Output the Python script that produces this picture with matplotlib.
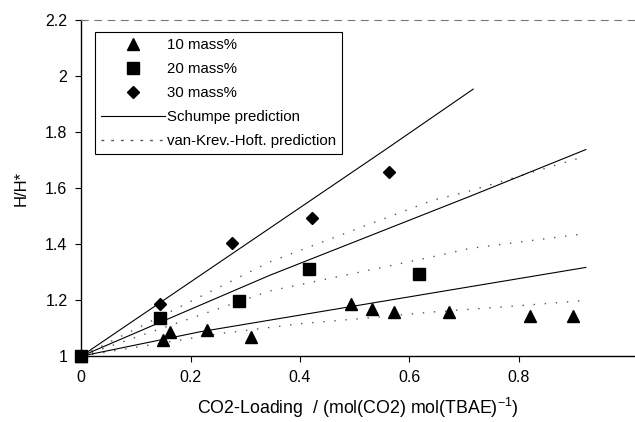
import matplotlib.pyplot as plt

plt.rcParams['font.family'] = ['Liberation Sans', 'DejaVu Sans']

# measured points (CO2 loading, H/H*)
x10 = [0, 0.150, 0.162, 0.230, 0.310, 0.493, 0.532, 0.572, 0.673, 0.821, 0.899]
y10 = [1, 1.057, 1.087, 1.095, 1.069, 1.186, 1.168, 1.156, 1.158, 1.143, 1.143]
x20 = [0, 0.144, 0.289, 0.416, 0.618]
y20 = [1, 1.137, 1.198, 1.313, 1.293]
x30 = [0, 0.144, 0.276, 0.422, 0.563]
y30 = [1, 1.186, 1.405, 1.494, 1.657]

# Schumpe prediction
sx10 = [0, 0.217, 0.674, 0.923]
sy10 = [1, 1.087, 1.236, 1.317]
sx20 = [0, 0.345, 0.711, 0.923]
sy20 = [1, 1.289, 1.571, 1.738]
sx30 = [0, 0.555, 0.717]
sy30 = [1, 1.736, 1.954]

# van Krevelen-Hoftijzer prediction (dotted lines)
vx10 = [0, 0.254, 0.406, 0.516, 0.644, 0.812, 0.915]
vy10 = [1, 1.081, 1.117, 1.135, 1.158, 1.182, 1.198]
vx20 = [0, 0.345, 0.643, 0.711, 0.915]
vy20 = [1, 1.233, 1.355, 1.385, 1.436]
vx30 = [0, 0.345, 0.643, 0.705, 0.912]
vy30 = [1, 1.337, 1.557, 1.587, 1.708]

xticks = [0, 0.2, 0.4, 0.6, 0.8]
xticklabels = ["0", "0.2", "0.4", "0.6", "0.8"]
yticks = [1, 1.2, 1.4, 1.6, 1.8, 2, 2.2]
yticklabels = ["1", "1.2", "1.4", "1.6", "1.8", "2", "2.2"]

fig = plt.figure(figsize=(6.35, 4.22), dpi=100)
ax = fig.add_axes([0.128, 0.156, 0.872, 0.796])

dot = (0, (1, 7))
ax.plot(vx10, vy10, color='#555555', lw=1, linestyle=dot)
ax.plot(vx20, vy20, color='#555555', lw=1, linestyle=dot)
ax.plot(vx30, vy30, color='#555555', lw=1, linestyle=dot)
ax.plot(sx10, sy10, color='black', lw=0.8)
ax.plot(sx20, sy20, color='black', lw=0.8)
ax.plot(sx30, sy30, color='black', lw=0.8)

h1, = ax.plot(x10, y10, '^', color='black', ms=9, linestyle='none', clip_on=False)
h3, = ax.plot(x30, y30, 'D', color='black', ms=6.5, linestyle='none', clip_on=False)
h2, = ax.plot(x20, y20, 's', color='black', ms=8, linestyle='none', clip_on=False)

hs, = ax.plot([], [], color='black', lw=0.8)
hv, = ax.plot([], [], color='#555555', lw=1, linestyle=(0, (2, 5)))

leg = ax.legend([h1, h2, h3, hs, hv],
                ["10 mass%", "20 mass%", "30 mass%", "Schumpe prediction", "van-Krev.-Hoft. prediction"],
                loc='upper left', bbox_to_anchor=(0.024, 0.964), borderaxespad=0,
                fontsize=10.8, handlelength=4.3, labelspacing=0.66, handletextpad=0.1,
                borderpad=0.4, fancybox=False, framealpha=1, edgecolor='black')
leg.get_frame().set_linewidth(0.8)

ax.set_xlim(0, 1.013)
ax.set_ylim(1, 2.2)
ax.set_xticks(xticks)
ax.set_xticklabels(xticklabels)
ax.set_yticks(yticks)
ax.set_yticklabels(yticklabels)
ax.tick_params(direction='out', length=4, width=0.8, labelsize=11.5, pad=6)

ax.spines['right'].set_visible(False)
ax.spines['top'].set_linestyle((0, (6, 6)))
ax.spines['top'].set_color('#777777')
ax.spines['top'].set_linewidth(0.8)
ax.spines['left'].set_linewidth(1.0)
ax.spines['bottom'].set_linewidth(1.0)

ax.set_ylabel("H/H*", fontsize=12, labelpad=12)
ax.set_xlabel("CO2-Loading  / (mol(CO2) mol(TBAE)$^{\\mathregular{-1}}$)", fontsize=12.8, labelpad=8)

fig.savefig("out.png", dpi=100)
